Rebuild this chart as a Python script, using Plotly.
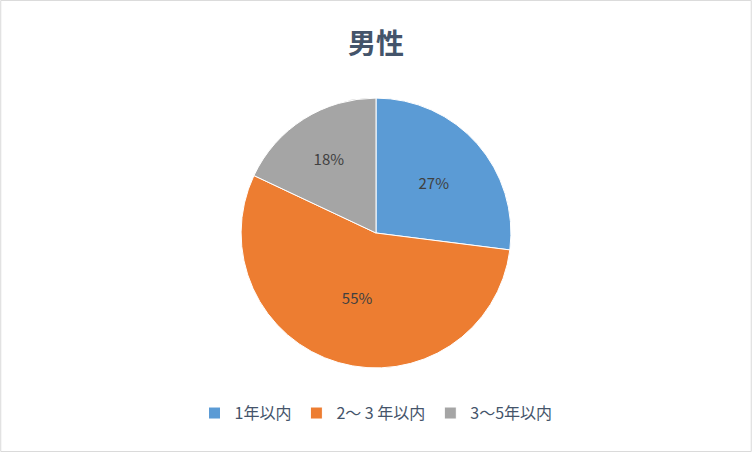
import plotly.graph_objects as go

# Data
labels = ["1年以内", "2～ 3 年以内", "3～5年以内"]
values = [27, 55, 18]
colors = ["#5B9BD5", "#ED7D31", "#A5A5A5"]

fig = go.Figure()

fig.add_trace(go.Pie(
    labels=labels,
    values=values,
    sort=False,
    direction="clockwise",
    rotation=0,
    marker=dict(colors=colors, line=dict(color="white", width=1)),
    textinfo="percent",
    texttemplate="%{percent:.0%}",
    textposition="inside",
    insidetextorientation="horizontal",
    textfont=dict(family="Noto Sans CJK JP", size=15, color="#404040"),
    domain=dict(x=[0, 1], y=[0.186, 0.783]),
    hoverinfo="label+percent",
))

fig.update_layout(
    width=752,
    height=452,
    margin=dict(l=0, r=0, t=0, b=0),
    paper_bgcolor="white",
    title=dict(
        text="<b>男性</b>",
        x=0.5, xanchor="center",
        y=0.903, yanchor="middle",
        font=dict(family="Noto Sans CJK JP", size=28, color="#44546A"),
    ),
    legend=dict(
        orientation="h",
        x=0.5, xanchor="center",
        y=0.086, yanchor="middle",
        font=dict(family="Noto Sans CJK JP", size=16, color="#44546A"),
        itemwidth=30,
        traceorder="normal",
    ),
    shapes=[dict(
        type="rect", xref="paper", yref="paper",
        x0=0.001, y0=0.001, x1=0.999, y1=0.999,
        line=dict(color="#D9D9D9", width=1),
    )],
)

# drop the default page margin so the chart sits at the window corner
fig.write_html(
    "out.html",
    config={"displayModeBar": False},
    post_script="document.body.style.margin='0';",
)
